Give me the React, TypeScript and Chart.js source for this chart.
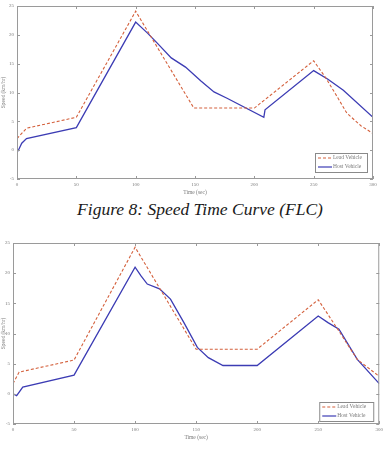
import React, { useEffect, useRef } from "react";
import { Chart, registerables } from "chart.js";

Chart.register(...registerables);

// Speed vs time for a lead and a host vehicle, two controller runs
const timeTicks = [0, 50, 100, 150, 200, 250, 300];
const speedTicks = [-5, 0, 5, 10, 15, 20, 25];

const leadTimeA = [0, 8, 50, 100, 149, 200, 250, 260, 270, 278, 290, 300];
const leadSpeedA = [2.0, 3.8, 5.7, 24.1, 7.3, 7.3, 15.5, 12.6, 9.2, 6.4, 4.2, 2.9];
const hostTimeA = [0, 1, 4, 8, 50, 100, 110, 118, 130, 142, 155, 166, 177, 208, 209, 250, 262, 275, 300];
const hostSpeedA = [0, -0.1, 1.2, 2.0, 3.9, 22.2, 20.3, 18.6, 16.0, 14.4, 12.0, 10.1, 9.0, 5.7, 7.0, 13.8, 12.3, 10.4, 5.7];

const leadTimeB = [0, 5, 50, 100, 150, 200, 250, 266, 282, 300];
const leadSpeedB = [1.7, 3.6, 5.6, 24.3, 7.4, 7.4, 15.6, 10.7, 5.7, 2.9];
const hostTimeB = [0, 3, 8, 50, 100, 105, 110, 120, 129, 140, 151, 160, 172, 200, 250, 258, 267, 282, 300];
const hostSpeedB = [0, -0.3, 1.1, 3.1, 21.0, 19.5, 18.2, 17.4, 15.7, 11.8, 7.7, 6.0, 4.7, 4.7, 12.9, 11.8, 10.7, 5.7, 1.7];

const seriesLabels = ["Lead Vehicle", "Host Vehicle"];
const leadColor = "#d4603c";
const hostColor = "#3c3cb4";
const axisColor = "#9a9a9a";
const textColor = "#7a7a7a";

const toPoints = (xs: number[], ys: number[]) => xs.map((x, i) => ({ x, y: ys[i] }));

// box frame, inward ticks and an in-plot legend
const framePlugin = {
  id: "frame",
  afterDraw(chart: any) {
    const { ctx, chartArea: a, scales } = chart;
    ctx.save();
    ctx.strokeStyle = axisColor;
    ctx.lineWidth = 1;
    ctx.strokeRect(a.left + 0.5, a.top + 0.5, a.right - a.left - 1, a.bottom - a.top - 1);
    const tl = 3;
    ctx.beginPath();
    timeTicks.forEach((t) => {
      const x = Math.round(scales.x.getPixelForValue(t)) + 0.5;
      ctx.moveTo(x, a.bottom);
      ctx.lineTo(x, a.bottom - tl);
      ctx.moveTo(x, a.top);
      ctx.lineTo(x, a.top + tl);
    });
    speedTicks.forEach((v) => {
      const y = Math.round(scales.y.getPixelForValue(v)) + 0.5;
      ctx.moveTo(a.left, y);
      ctx.lineTo(a.left + tl, y);
      ctx.moveTo(a.right, y);
      ctx.lineTo(a.right - tl, y);
    });
    ctx.stroke();

    // legend box in lower-right corner
    const opts = chart.options.plugins.frame;
    const w = opts.legendWidth;
    const h = 19;
    const lx = a.right - w - 6;
    const ly = a.bottom - h - opts.legendBottom;
    ctx.fillStyle = "#ffffff";
    ctx.fillRect(lx, ly, w, h);
    ctx.strokeStyle = "#8a8a8a";
    ctx.strokeRect(lx + 0.5, ly + 0.5, w, h);
    ctx.font = "5.5px 'Liberation Serif'";
    ctx.textBaseline = "middle";
    chart.data.datasets.forEach((ds: any, i: number) => {
      const yy = ly + 5 + i * 9;
      ctx.strokeStyle = ds.borderColor;
      ctx.lineWidth = 1.2;
      ctx.setLineDash(ds.borderDash || []);
      ctx.beginPath();
      ctx.moveTo(lx + 3, yy);
      ctx.lineTo(lx + 17, yy);
      ctx.stroke();
      ctx.setLineDash([]);
      ctx.fillStyle = textColor;
      ctx.fillText(ds.label, lx + 18, yy);
    });
    ctx.restore();
  },
};

type PanelProps = {
  leadT: number[];
  leadV: number[];
  hostT: number[];
  hostV: number[];
  padLeft: number;
  padRight: number;
  padTop: number;
  xAxisHeight: number;
  width: number;
  height: number;
  legendWidth: number;
  legendBottom: number;
};

function SpeedPanel(p: PanelProps) {
  const ref = useRef<HTMLCanvasElement>(null);
  useEffect(() => {
    if (!ref.current) return;
    const chart = new Chart(ref.current, {
      type: "line",
      data: {
        datasets: [
          {
            label: seriesLabels[0],
            data: toPoints(p.leadT, p.leadV),
            borderColor: leadColor,
            borderWidth: 1.1,
            borderDash: [3, 2],
            pointRadius: 0,
            tension: 0,
          },
          {
            label: seriesLabels[1],
            data: toPoints(p.hostT, p.hostV),
            borderColor: hostColor,
            borderWidth: 1.3,
            pointRadius: 0,
            tension: 0,
          },
        ],
      },
      options: {
        animation: false,
        responsive: false,
        layout: { padding: { left: 0, right: p.padRight, top: p.padTop, bottom: 0 } },
        plugins: {
          legend: { display: false },
          tooltip: { enabled: false },
          frame: { legendWidth: p.legendWidth, legendBottom: p.legendBottom },
        } as any,
        scales: {
          x: {
            type: "linear",
            min: 0,
            max: 300,
            afterBuildTicks: (s: any) => {
              s.ticks = timeTicks.map((v) => ({ value: v }));
            },
            afterFit: (s: any) => {
              s.height = p.xAxisHeight;
            },
            grid: { display: false, drawTicks: false },
            border: { display: false },
            ticks: { color: textColor, font: { size: 5, family: "Liberation Serif" }, padding: 3, maxRotation: 0 },
            title: {
              display: true,
              text: "Time (sec)",
              color: textColor,
              font: { size: 5.5, family: "Liberation Serif" },
              padding: { top: 0, bottom: 0 },
            },
          },
          y: {
            type: "linear",
            min: -5,
            max: 25,
            afterBuildTicks: (s: any) => {
              s.ticks = speedTicks.map((v) => ({ value: v }));
            },
            afterFit: (s: any) => {
              s.width = p.padLeft;
            },
            grid: { display: false, drawTicks: false },
            border: { display: false },
            ticks: { color: textColor, font: { size: 5, family: "Liberation Serif" }, padding: 3 },
            title: {
              display: true,
              text: "Speed (km/hr)",
              color: textColor,
              font: { size: 5.5, family: "Liberation Serif" },
              padding: { top: 0, bottom: 0 },
            },
          },
        },
      },
      plugins: [framePlugin],
    });
    return () => chart.destroy();
  }, []);
  return <canvas ref={ref} width={p.width} height={p.height} style={{ display: "block", width: p.width, height: p.height }} />;
}

export default function App() {
  return (
    <div style={{ position: "absolute", left: 0, top: 0, width: 386, height: 450, background: "#fff", overflow: "hidden" }}>
      <div style={{ position: "absolute", left: 0, top: 0 }}>
        <SpeedPanel
          leadT={leadTimeA}
          leadV={leadSpeedA}
          hostT={hostTimeA}
          hostV={hostSpeedA}
          padLeft={17}
          padRight={13}
          padTop={2}
          xAxisHeight={17}
          width={386}
          height={196}
          legendWidth={52}
          legendBottom={7}
        />
      </div>
      <div
        style={{
          position: "absolute",
          left: 14,
          top: 199,
          width: 372,
          textAlign: "center",
          fontFamily: "'Liberation Serif', serif",
          fontStyle: "italic",
          fontWeight: 400,
          fontSize: 17.5,
          color: "#1a1a1a",
          lineHeight: "20px",
        }}
      >
        Figure 8: Speed Time Curve (FLC)
      </div>
      <div style={{ position: "absolute", left: 0, top: 233 }}>
        <SpeedPanel
          leadT={leadTimeB}
          leadV={leadSpeedB}
          hostT={hostTimeB}
          hostV={hostSpeedB}
          padLeft={13}
          padRight={4}
          padTop={10}
          xAxisHeight={17}
          width={386}
          height={208}
          legendWidth={54}
          legendBottom={3}
        />
      </div>
    </div>
  );
}
